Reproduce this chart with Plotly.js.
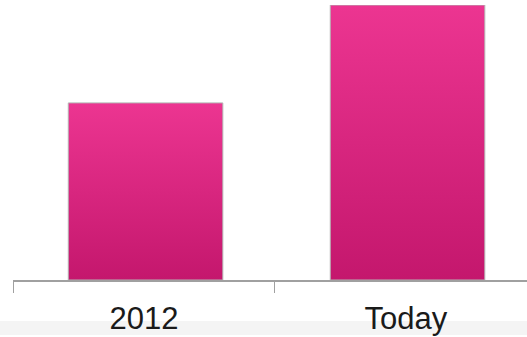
<!DOCTYPE html>
<html>
<head>
<meta charset="utf-8">
<script src="https://cdn.plot.ly/plotly-3.0.1.min.js"></script>
<style>html,body{margin:0;padding:0;background:#fff;}#chart{width:527px;height:337px;}</style>
</head>
<body>
<div id="chart"></div>
<script>
const categories = ['2012', 'Today'];
const values = [64.4, 100];

const trace = {
  type: 'bar',
  x: categories,
  y: values,
  width: 0.59,
  offset: -0.289,
  marker: {color: '#D9287F', line: {color: '#b4b4b4', width: 1}},
  hoverinfo: 'none'
};

const layout = {
  width: 527, height: 337,
  margin: {l: 13, r: 0, t: 5, b: 57},
  paper_bgcolor: '#ffffff',
  plot_bgcolor: '#ffffff',
  showlegend: false,
  xaxis: {
    type: 'category',
    range: [-0.5, 1.462],
    tickson: 'boundaries',
    ticks: 'outside',
    ticklen: 11,
    tickwidth: 1,
    tickcolor: '#a0a0a0',
    showline: true,
    linecolor: '#a0a0a0',
    linewidth: 1.5,
    showgrid: false,
    zeroline: false,
    ticklabelstandoff: 10,
    tickfont: {family: 'Liberation Sans, Arial, sans-serif', size: 31, color: '#1a1a1a'},
    fixedrange: true
  },
  yaxis: {
    range: [0, 100],
    visible: false,
    showgrid: false,
    zeroline: false,
    fixedrange: true
  },
  shapes: [{
    type: 'rect', xref: 'paper', yref: 'paper',
    x0: -0.1, x1: 1.1, y0: -0.2, y1: -0.149,
    fillcolor: '#f4f4f4', line: {width: 0}, layer: 'below'
  }]
};

Plotly.newPlot('chart', [trace], layout, {displayModeBar: false, staticPlot: true}).then(function (gd) {
  const svg = gd.querySelector('svg.main-svg');
  const ns = 'http://www.w3.org/2000/svg';
  let defs = svg.querySelector('defs');
  if (!defs) { defs = document.createElementNS(ns, 'defs'); svg.insertBefore(defs, svg.firstChild); }
  const grad = document.createElementNS(ns, 'linearGradient');
  grad.setAttribute('id', 'barGrad');
  grad.setAttribute('x1', '0'); grad.setAttribute('y1', '0');
  grad.setAttribute('x2', '0'); grad.setAttribute('y2', '1');
  [['0%', '#EC3591'], ['100%', '#C4176D']].forEach(function (s) {
    const st = document.createElementNS(ns, 'stop');
    st.setAttribute('offset', s[0]); st.setAttribute('stop-color', s[1]);
    grad.appendChild(st);
  });
  defs.appendChild(grad);
  gd.querySelectorAll('.barlayer .point path').forEach(function (p) {
    p.style.fill = 'url(#barGrad)';
  });
});
</script>
</body>
</html>
